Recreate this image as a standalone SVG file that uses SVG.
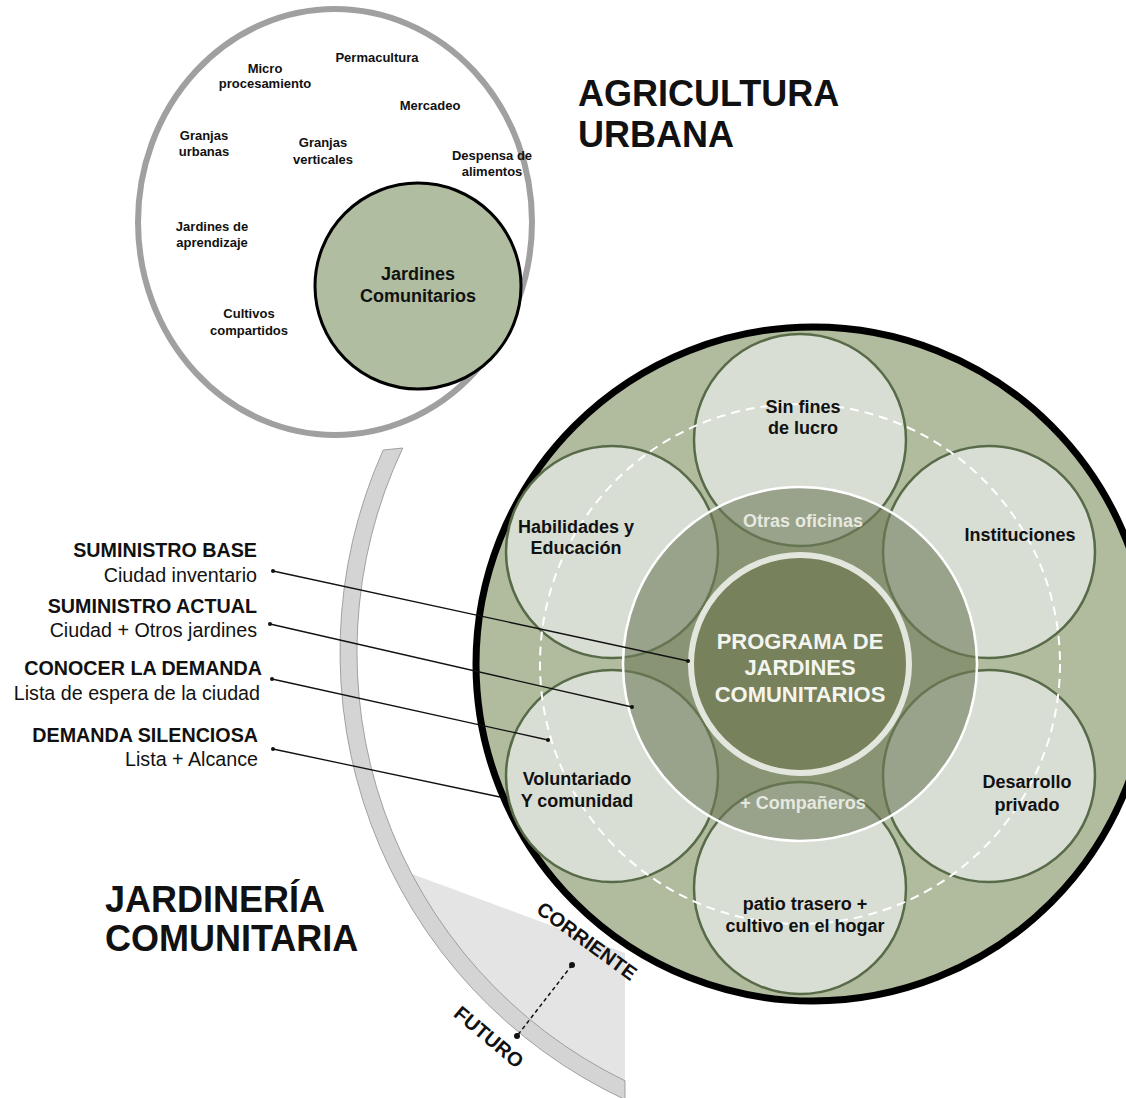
<svg xmlns="http://www.w3.org/2000/svg" width="1126" height="1098" viewBox="0 0 1126 1098">
<defs>
<style>
text{font-family:"Liberation Sans",Arial,Helvetica,sans-serif;fill:#111}
.b{font-weight:bold}
.sm{font-size:13px;font-weight:bold;text-anchor:middle}
.pt{font-size:18px;font-weight:bold;text-anchor:middle}
.lb{font-size:19.7px;text-anchor:end}
.hd{font-size:36px;font-weight:bold}
.rt{font-size:20px;font-weight:bold;text-anchor:middle}
.petal{fill:#d9ded4;stroke:#586b48;stroke-width:2.5}
.lead{stroke:#111;stroke-width:1.3;fill:none}
.dot{fill:#111}
</style>
</defs>
<rect width="1126" height="1098" fill="#fff"/>

<!-- Agricultura urbana circle -->
<g id="agricultura-urbana">
<ellipse cx="335" cy="222" rx="197" ry="213" fill="#fff" stroke="#a0a0a0" stroke-width="6"/>
<text class="sm" x="377" y="62">Permacultura</text>
<text class="sm" x="265" y="72.5">Micro</text>
<text class="sm" x="265" y="88">procesamiento</text>
<text class="sm" x="430" y="110">Mercadeo</text>
<text class="sm" x="204" y="139.5">Granjas</text>
<text class="sm" x="204" y="156">urbanas</text>
<text class="sm" x="323" y="147">Granjas</text>
<text class="sm" x="323" y="163.5">verticales</text>
<text class="sm" x="492" y="159.5">Despensa de</text>
<text class="sm" x="492" y="176">alimentos</text>
<text class="sm" x="212" y="231">Jardines de</text>
<text class="sm" x="212" y="247">aprendizaje</text>
<text class="sm" x="249" y="318">Cultivos</text>
<text class="sm" x="249" y="334.5">compartidos</text>
</g>
<g id="jardines-comunitarios">
<circle cx="418" cy="286" r="103" fill="#b0bda0" stroke="#000" stroke-width="3"/>
<text class="b" x="418" y="280" font-size="18" text-anchor="middle">Jardines</text>
<text class="b" x="418" y="302" font-size="18" text-anchor="middle">Comunitarios</text>
</g>
<g id="titulo-agricultura">
<text class="hd" x="578" y="106">AGRICULTURA</text>
<text class="hd" x="578" y="147">URBANA</text>
</g>

<!-- Jardineria arc and wedge -->
<g id="corriente-futuro">
<path d="M404,871 L625,953 L625,1086 A482 482 0 0 1 404,871 Z" fill="#e4e4e4"/>
<path d="M383.2,450 A494 494 0 0 0 625,1099.6 L625,1080.8 A477 477 0 0 1 402.8,448 Z" fill="#d4d4d4" stroke="#8e8e8e" stroke-width="0.8"/>
</g>
<g id="titulo-jardineria">
<text class="hd" x="105" y="912">JARDINERÍA</text>
<text class="hd" x="105" y="951">COMUNITARIA</text>
</g>

<!-- Program circle -->
<g id="programa">
<circle cx="813" cy="664" r="337" fill="#b1bc9f" stroke="#000" stroke-width="7"/>
</g>
<g id="sin-fines">
<circle class="petal" cx="800" cy="440" r="106"/>
</g>
<g id="instituciones">
<circle class="petal" cx="989" cy="552" r="106"/>
</g>
<g id="desarrollo-privado">
<circle class="petal" cx="989" cy="776" r="106"/>
</g>
<g id="patio-trasero">
<circle class="petal" cx="800" cy="888" r="106"/>
</g>
<g id="voluntariado">
<circle class="petal" cx="612" cy="776" r="106"/>
</g>
<g id="habilidades">
<circle class="petal" cx="612" cy="552" r="106"/>
</g>
<g id="otras-oficinas">
<circle cx="800" cy="664" r="177" fill="#6e7a58" fill-opacity="0.6" stroke="#fff" stroke-width="2.5"/>
</g>
<circle cx="800" cy="664" r="260" fill="none" stroke="#fff" stroke-width="2" stroke-dasharray="9 6"/>
<g id="programa-centro">
<circle cx="800" cy="664" r="109" fill="#77815b" stroke="#e3e6dd" stroke-width="6"/>
<text class="b" x="800" y="649" font-size="22" text-anchor="middle" style="fill:#f5f5f0">PROGRAMA DE</text>
<text class="b" x="800" y="675" font-size="22" text-anchor="middle" style="fill:#f5f5f0">JARDINES</text>
<text class="b" x="800" y="702" font-size="22" text-anchor="middle" style="fill:#f5f5f0">COMUNITARIOS</text>
</g>
<g id="petal-labels">
<text class="pt" x="803" y="413">Sin fines</text>
<text class="pt" x="803" y="434">de lucro</text>
<text class="pt" x="576" y="533">Habilidades y</text>
<text class="pt" x="576" y="554">Educación</text>
<text class="pt" x="1020" y="541">Instituciones</text>
<text class="pt" x="803" y="527" style="fill:#e6e9e0">Otras oficinas</text>
<text class="pt" x="577" y="785">Voluntariado</text>
<text class="pt" x="577" y="807">Y comunidad</text>
<text class="pt" x="803" y="809" style="fill:#e6e9e0">+ Compañeros</text>
<text class="pt" x="1027" y="788">Desarrollo</text>
<text class="pt" x="1027" y="811">privado</text>
<text class="pt" x="805" y="910">patio trasero +</text>
<text class="pt" x="805" y="932">cultivo en el hogar</text>
</g>

<!-- Left labels -->
<g id="labels">
<text class="lb b" x="257" y="557">SUMINISTRO BASE</text>
<text class="lb" x="257" y="582">Ciudad inventario</text>
<text class="lb b" x="257" y="613">SUMINISTRO ACTUAL</text>
<text class="lb" x="257" y="637">Ciudad + Otros jardines</text>
<text class="lb b" x="262" y="675">CONOCER LA DEMANDA</text>
<text class="lb" x="260" y="700">Lista de espera de la ciudad</text>
<text class="lb b" x="258" y="742">DEMANDA SILENCIOSA</text>
<text class="lb" x="258" y="766">Lista + Alcance</text>
</g>

<!-- Connectors -->
<g id="connectors">
<line class="lead" x1="273" y1="571" x2="688" y2="661"/>
<line class="lead" x1="270" y1="624" x2="632" y2="707"/>
<line class="lead" x1="272" y1="679" x2="548" y2="740"/>
<line class="lead" x1="273" y1="749" x2="500" y2="797"/>
<circle class="dot" cx="273" cy="571" r="2"/>
<circle class="dot" cx="688" cy="661" r="2"/>
<circle class="dot" cx="270" cy="624" r="2"/>
<circle class="dot" cx="632" cy="707" r="2"/>
<circle class="dot" cx="272" cy="679" r="2"/>
<circle class="dot" cx="548" cy="740" r="2"/>
<circle class="dot" cx="273" cy="749" r="2"/>
<line x1="572" y1="965" x2="517" y2="1036" stroke="#111" stroke-width="1.5" stroke-dasharray="4 3"/>
<circle class="dot" cx="572" cy="965" r="3"/>
<circle class="dot" cx="517" cy="1036" r="3"/>
</g>
<g id="timeline-labels">
<text class="rt" transform="translate(587,941) rotate(36)" y="7">CORRIENTE</text>
<text class="rt" transform="translate(489,1037) rotate(40)" y="7">FUTURO</text>
</g>
</svg>
